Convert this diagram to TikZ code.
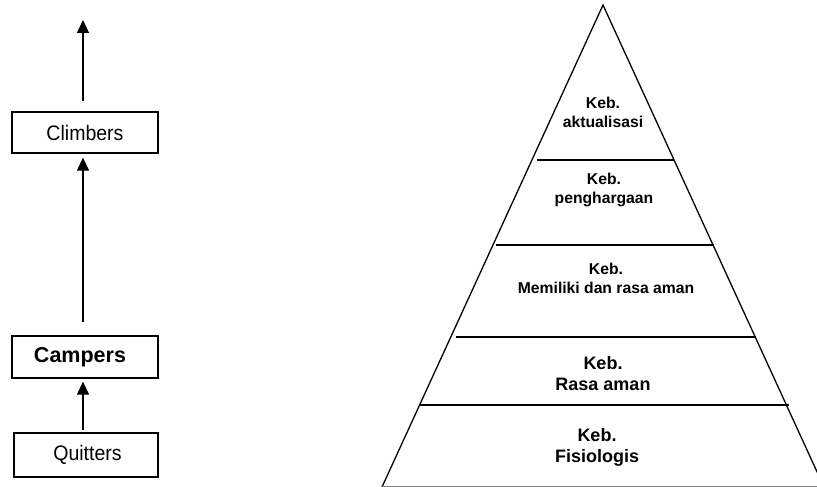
\documentclass[tikz,border=0pt]{standalone}
\usepackage{fontspec}
\setmainfont{Liberation Sans}
\newfontfamily\narrowfont[FakeStretch=0.93]{Liberation Sans}
\usetikzlibrary{arrows.meta}
\begin{document}
\begin{tikzpicture}[x=1pt,y=-1pt,
  box/.style={draw,line width=1.3pt,inner sep=0pt,anchor=center},
  arr/.style={line width=1.3pt,-{Triangle[length=13pt,width=12pt]}},
  pline/.style={line width=1.4pt},
  labA/.style={font=\bfseries\fontsize{15.7}{19}\selectfont,align=center,anchor=center,inner sep=0pt},
  labB/.style={font=\bfseries\fontsize{18}{21}\selectfont,align=center,anchor=center,inner sep=0pt}]
\clip (0,0) rectangle (817,487);
\fill[white] (0,0) rectangle (817,487);
% left column
\node[box,minimum width=146pt,minimum height=41pt,font=\narrowfont\fontsize{21}{24}\selectfont] (climbers) at (85,132.5) {Climbers};
\node[box,minimum width=146pt,minimum height=42pt,font=\bfseries\fontsize{21.5}{24}\selectfont] (campers) at (85,357) {\hspace*{-10pt}Campers};
\node[box,minimum width=144pt,minimum height=44pt,font=\narrowfont\fontsize{21}{24}\selectfont] (quitters) at (86,455) {\hspace*{3pt}Quitters};
\coordinate (topend) at (83,20);
\draw[arr] ([xshift=-2pt,yshift=10pt]climbers.north) -- (topend);
\draw[arr] ([xshift=-2pt,yshift=13pt]campers.north) -- ([xshift=-2pt,yshift=-4pt]climbers.south);
\draw[arr] ([xshift=-3pt,yshift=2pt]quitters.north) -- ([xshift=-2pt,yshift=-3pt]campers.south);
% pyramid
\coordinate (apex) at (603,5);
\coordinate (bl) at (382,487);
\coordinate (br) at (824,487);
\draw[line width=1.3pt] (bl) -- (apex) -- (br);
\draw[gray,line width=1.3pt] (382,486.5) -- (817,486.5);
\draw[pline] (537,160) -- (674,160);
\draw[pline] (496,245) -- (714,245);
\draw[pline] (456,337) -- (756,337);
\draw[pline] (419,405) -- (789,405);
\node[labA] (l1) at (603,112) {Keb.\\aktualisasi};
\node[labA] (l2) at (604,190) {Keb.\\penghargaan};
\node[labA] (l3) at (606,278) {Keb.\\Memiliki dan rasa aman};
\node[labB] (l4) at (603,374) {Keb.\\Rasa aman};
\node[labB] (l5) at (597,447) {Keb.\\Fisiologis};
\end{tikzpicture}
\end{document}
